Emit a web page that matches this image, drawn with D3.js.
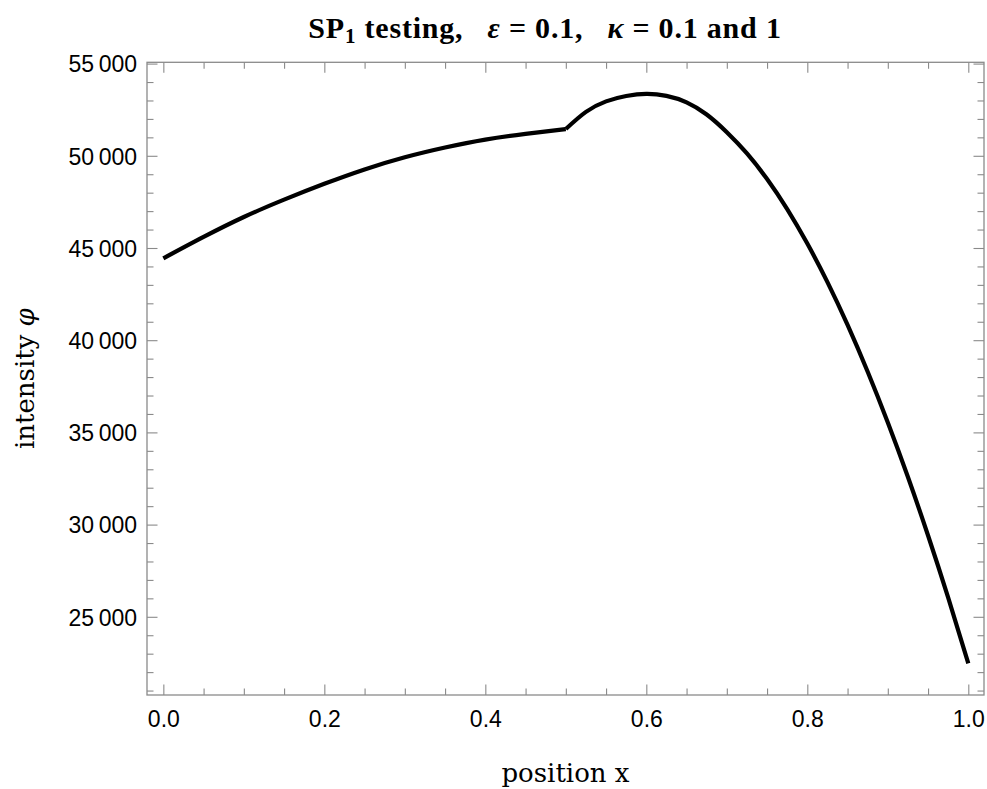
<html>
<head>
<meta charset="utf-8">
<title>SP1 testing</title>
<script src="https://d3js.org/d3.v7.min.js"></script>
<style>
  body { margin: 0; background: #fff; }
  .tick text { font-family: "Liberation Sans", Arial, sans-serif; font-size: 23px; fill: #000; }
  .tick line { stroke: #8a8a8a; stroke-width: 1.1px; }
  .domain { display: none; }
</style>
</head>
<body>
<div id="chart"></div>
<script>
// position x and intensity phi (kink at x = 0.5)
var posX = [0, 0.05, 0.1, 0.15, 0.2, 0.25, 0.3, 0.35, 0.4, 0.45, 0.5,
            0.525, 0.55, 0.575, 0.6, 0.625, 0.65, 0.675, 0.7, 0.725, 0.75, 0.775, 0.8,
            0.825, 0.85, 0.875, 0.9, 0.925, 0.95, 0.975, 1.0]
var phi  = [44440, 45600, 46680, 47620, 48480, 49260, 49920, 50450, 50880, 51190, 51450,
            52380, 52950, 53240, 53360, 53250, 52900, 52240, 51280, 50130, 48740, 47110, 45240,
            43150, 40830, 38290, 35540, 32580, 29410, 26040, 22480]
var kinkAt = 0.5

var xTicks = [0, 0.2, 0.4, 0.6, 0.8, 1.0]
var xMinor = [0.05, 0.1, 0.15, 0.25, 0.3, 0.35, 0.45, 0.5, 0.55, 0.65, 0.7, 0.75, 0.85, 0.9, 0.95]
var yTicks = [25000, 30000, 35000, 40000, 45000, 50000, 55000]
var yMinor = d3.range(21000, 55001, 1000).filter(function(v){ return v % 5000 != 0 })

var W = 987, H = 789
var pLeft = 147, pRight = 984, pTop = 62.3, pBottom = 695

var svg = d3.select("#chart").append("svg")
    .attr("width", W)
    .attr("height", H)

var x = d3.scaleLinear().domain([-0.0203, 1.0195]).range([pLeft, pRight])
var y = d3.scaleLinear().domain([20759, 55070]).range([pBottom, pTop])

var fmt = function(v){ return d3.format(",")(v).replace(",", "\u2009") }

// major + minor ticks on all four sides, pointing inward
function ticks(axis, vals, size, pos, labels) {
  var g = svg.append("g")
    .attr("transform", pos)
    .call(axis.tickValues(vals).tickSizeInner(size).tickSizeOuter(0)
      .tickPadding(0).tickFormat(labels ? labels : ""))
  return g
}
var bx = ticks(d3.axisBottom(x), xTicks, -10.5, "translate(0," + pBottom + ")", d3.format(".1f"))
bx.selectAll("text").attr("y", 31.7).attr("dy", null)
ticks(d3.axisBottom(x), xMinor, -6.5, "translate(0," + pBottom + ")")
ticks(d3.axisTop(x), xTicks, -10.5, "translate(0," + pTop + ")")
ticks(d3.axisTop(x), xMinor, -6.5, "translate(0," + pTop + ")")

var ly = ticks(d3.axisLeft(y), yTicks, -10.5, "translate(" + pLeft + ",0)", fmt)
ly.selectAll("text").attr("x", -10).attr("dy", "0.36em")
ticks(d3.axisLeft(y), yMinor, -6.5, "translate(" + pLeft + ",0)")
ticks(d3.axisRight(y), yTicks, -10.5, "translate(" + pRight + ",0)")
ticks(d3.axisRight(y), yMinor, -6.5, "translate(" + pRight + ",0)")

// frame
svg.append("rect")
  .attr("x", pLeft).attr("y", pTop)
  .attr("width", pRight - pLeft).attr("height", pBottom - pTop)
  .attr("fill", "none").attr("stroke", "#8a8a8a").attr("stroke-width", 1.3)

// curve, drawn as two smooth pieces meeting at the kink
// (each piece has evenly spaced x, so a natural spline stays smooth)
var pts = posX.map(function(d, i){ return [d, phi[i]] })
var line = d3.line()
  .x(function(d){ return x(d[0]) })
  .y(function(d){ return y(d[1]) })
  .curve(d3.curveNatural)
var pieces = [pts.filter(function(d){ return d[0] <= kinkAt }),
              pts.filter(function(d){ return d[0] >= kinkAt })]
svg.selectAll("path.curve")
  .data(pieces)
  .enter()
  .append("path")
    .attr("class", "curve")
    .attr("d", line)
    .attr("fill", "none")
    .attr("stroke", "#000")
    .attr("stroke-width", 4.2)
    .attr("stroke-linejoin", "round")

// title
var title = svg.append("text")
  .attr("x", 545).attr("y", 38)
  .attr("text-anchor", "middle")
  .style("font-family", "'Liberation Serif', serif")
  .style("font-weight", "bold")
  .style("font-size", "30px")
  .style("letter-spacing", "0.8px")
title.append("tspan").text("SP")
title.append("tspan").attr("baseline-shift", "-22%").style("font-size", "21px").text("1")
title.append("tspan").text(" testing,\u2002 ")
title.append("tspan").style("font-style", "italic").text("ε")
title.append("tspan").text(" = 0.1,\u2002 ")
title.append("tspan").style("font-style", "italic").text("κ")
title.append("tspan").text(" = 0.1 and 1")

// axis labels
svg.append("text")
  .attr("x", (pLeft + pRight) / 2).attr("y", 781.5)
  .attr("text-anchor", "middle")
  .style("font-family", "'DejaVu Serif', serif")
  .style("font-size", "26px")
  .text("position x")

var yl = svg.append("text")
  .attr("transform", "translate(33.5," + (pTop + pBottom) / 2 + ") rotate(-90)")
  .attr("text-anchor", "middle")
  .style("font-family", "'DejaVu Serif', serif")
  .style("font-size", "26px")
yl.append("tspan").text("intensity ")
yl.append("tspan").style("font-style", "italic").text("φ")
</script>
</body>
</html>
